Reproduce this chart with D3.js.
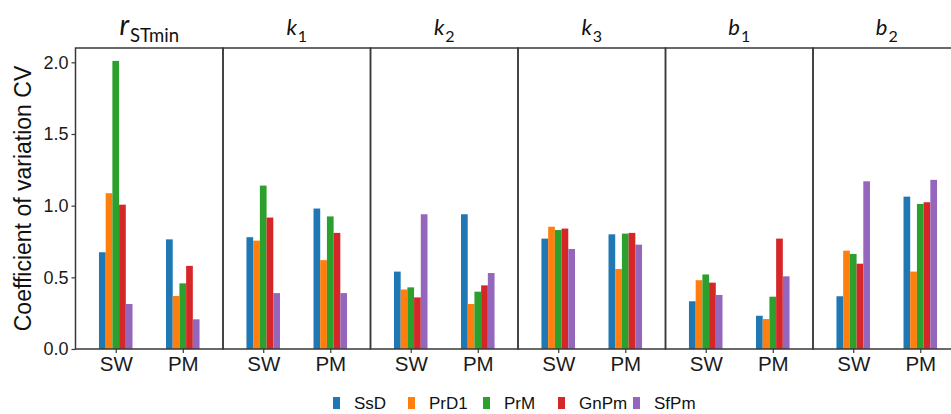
<!DOCTYPE html>
<html>
<head>
<meta charset="utf-8">
<script src="https://cdn.jsdelivr.net/npm/d3@7"></script>
<style>
  body { margin: 0; background: #fff; }
  text { font-family: "Liberation Sans", Arial, sans-serif; }
</style>
</head>
<body>
<script>
// CV of each parameter, faceted by parameter, grouped by site (SW / PM)

var params = ["rSTmin", "k1", "k2", "k3", "b1", "b2"];
var paramMain = ["r", "k", "k", "k", "b", "b"];
var paramSub = ["STmin", "1", "2", "3", "1", "2"];
var sites = ["SW", "PM"];
var series = ["SsD", "PrD1", "PrM", "GnPm", "SfPm"];
var colors = ["#1f77b4", "#ff7f0e", "#2ca02c", "#d62728", "#9467bd"];
var yTicks = [0, 0.5, 1.0, 1.5, 2.0];

// values per series, order: rSTmin SW, rSTmin PM, k1 SW, k1 PM, ... b2 SW, b2 PM
var SsD  = [0.675, 0.765, 0.78, 0.98, 0.54, 0.94, 0.77, 0.80, 0.333, 0.232, 0.368, 1.063];
var PrD1 = [1.087, 0.37, 0.756, 0.62, 0.415, 0.314, 0.853, 0.558, 0.48, 0.209, 0.686, 0.54];
var PrM  = [2.01, 0.458, 1.14, 0.925, 0.43, 0.40, 0.83, 0.805, 0.52, 0.365, 0.663, 1.012];
var GnPm = [1.007, 0.58, 0.917, 0.81, 0.36, 0.444, 0.84, 0.81, 0.463, 0.77, 0.595, 1.024];
var SfPm = [0.314, 0.207, 0.39, 0.39, 0.94, 0.53, 0.698, 0.728, 0.377, 0.507, 1.17, 1.18];
var seriesValues = [SsD, PrD1, PrM, GnPm, SfPm];

var data = [];
params.forEach(function(p, i) {
    sites.forEach(function(s, j) {
        series.forEach(function(name, k) {
            data.push({param: p, site: s, series: name, value: seriesValues[k][i * 2 + j]});
        });
    });
});

var width = 951, height = 414;
var margin = {top: 48, left: 75.5, bottom: 65};
var panelW = 147.5;
var plotH = height - margin.top - margin.bottom;

var svg = d3.select("body").append("svg")
    .attr("width", width)
    .attr("height", height);

var fx = d3.scaleBand()
    .domain(params)
    .range([margin.left, margin.left + panelW * params.length]);

var x = d3.scalePoint()
    .domain(sites)
    .range([0, panelW])
    .padding(0.6);

var step = x.step();
var xs = d3.scaleBand()
    .domain(series)
    .range([-0.25 * step, 0.25 * step]);

var y = d3.scaleLinear()
    .domain([0, 2.1])
    .range([margin.top + plotH, margin.top]);

var color = d3.scaleOrdinal().domain(series).range(colors);

// panels
var panels = svg.selectAll(".panel")
    .data(params)
    .enter().append("g")
    .attr("class", "panel")
    .attr("transform", function(d) { return "translate(" + fx(d) + ",0)"; });

panels.selectAll("rect.bar")
    .data(function(p) { return data.filter(function(d) { return d.param == p; }); })
    .enter().append("rect")
    .attr("class", "bar")
    .attr("x", function(d) { return x(d.site) + xs(d.series); })
    .attr("width", xs.bandwidth())
    .attr("y", function(d) { return y(d.value); })
    .attr("height", function(d) { return y(0) - y(d.value); })
    .attr("fill", function(d) { return color(d.series); });

panels.append("rect")
    .attr("x", 0)
    .attr("y", margin.top)
    .attr("width", panelW)
    .attr("height", plotH)
    .attr("fill", "none")
    .attr("stroke", "#383838")
    .attr("stroke-width", 1.5);

// x axis per panel
panels.append("g")
    .attr("transform", "translate(0," + y(0) + ")")
    .call(d3.axisBottom(x).tickSize(4).tickPadding(3))
    .call(function(g) {
        g.select(".domain").remove();
        g.selectAll(".tick line").attr("stroke", "#383838").attr("stroke-width", 1.2);
        g.selectAll(".tick text").attr("fill", "#1a1a1a").style("font-size", "20.5px");
    });

// strip titles
var strip = panels.append("text")
    .attr("x", panelW / 2)
    .attr("y", 35)
    .attr("text-anchor", "middle")
    .attr("fill", "#111")
    .style("font-family", "Lato, 'Open Sans', sans-serif");

strip.append("tspan")
    .style("font-style", "italic")
    .style("font-size", function(d, i) { return i == 0 ? "28px" : "22px"; })
    .text(function(d, i) { return paramMain[i]; });

strip.append("tspan")
    .style("font-size", function(d, i) { return i == 0 ? "18.5px" : "16px"; })
    .attr("dx", 1)
    .attr("dy", 7)
    .text(function(d, i) { return paramSub[i]; });

// y axis
svg.append("g")
    .attr("transform", "translate(" + margin.left + ",0)")
    .call(d3.axisLeft(y).tickValues(yTicks).tickFormat(d3.format(".1f")).tickSize(4).tickPadding(3))
    .call(function(g) {
        g.select(".domain").remove();
        g.selectAll(".tick line").attr("stroke", "#383838").attr("stroke-width", 1.2);
        g.selectAll(".tick text").attr("fill", "#1a1a1a").style("font-size", "18px");
    });

svg.append("text")
    .attr("transform", "translate(31," + (margin.top + plotH / 2) + ") rotate(-90)")
    .attr("text-anchor", "middle")
    .attr("fill", "#111")
    .style("font-size", "23px")
    .text("Coefficient of variation CV");

// legend, equal-width items
var legendStep = 75;
var legend = svg.append("g").attr("transform", "translate(333,397)");
var item = legend.selectAll("g")
    .data(series)
    .enter().append("g")
    .attr("transform", function(d, i) { return "translate(" + i * legendStep + ",0)"; });

item.append("rect")
    .attr("width", 7)
    .attr("height", 12)
    .attr("fill", function(d) { return color(d); });

item.append("text")
    .attr("x", 21)
    .attr("y", 12)
    .attr("fill", "#111")
    .style("font-size", "17px")
    .text(function(d) { return d; });
</script>
</body>
</html>
